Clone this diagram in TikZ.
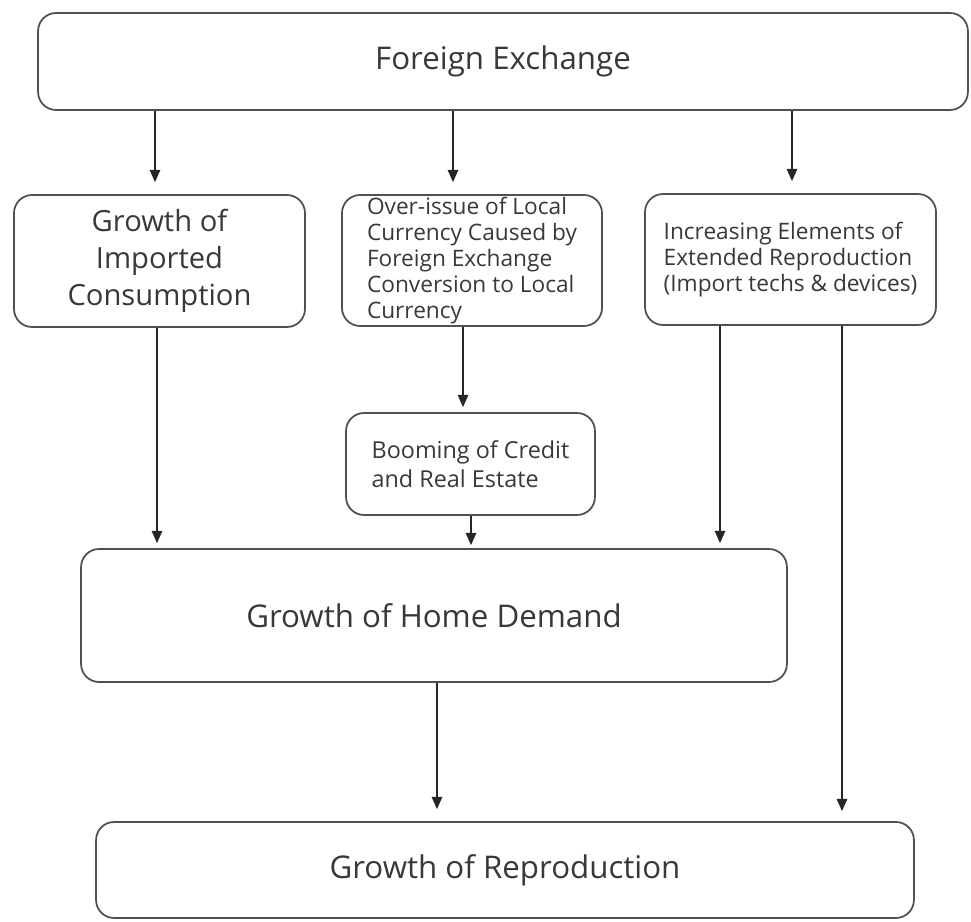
\documentclass[tikz,border=0pt]{standalone}
\usepackage{fontspec}
\setmainfont{Open Sans}
\usetikzlibrary{arrows.meta}
\definecolor{boxline}{HTML}{505050}
\definecolor{boxtext}{HTML}{383838}
\tikzset{
	box/.style={draw=boxline, line width=1pt, rounded corners=0.36cm, text=boxtext, align=center, inner sep=0pt},
	bigtext/.style={font=\fontsize{17.8}{21}\selectfont},
	smalltext/.style={font=\fontsize{12.9}{14.7}\selectfont, align=left},
	arr/.style={draw=black!85, line width=0.8pt, -{Triangle[length=7pt,width=6pt]}, shorten >=0.1cm},
}
\begin{document}
\begin{tikzpicture}[x=0.02cm, y=-0.02cm]
	\useasboundingbox (0,0) rectangle (971,922);
	% boxes
	\node[box, bigtext, minimum width=18.6cm, minimum height=1.94cm] (fx) at (503,61.5) {Foreign Exchange};
	\node[box, font=\fontsize{16.6}{21}\selectfont, minimum width=5.82cm, minimum height=2.64cm] (imp) at (159.5,261) {Growth of\\Imported\\Consumption};
	\node[box, smalltext, minimum width=5.2cm, minimum height=2.62cm] (ovr) at (472,260.5) {Over-issue of Local\\Currency Caused by\\Foreign Exchange\\Conversion to Local\\Currency};
	\node[box, smalltext, minimum width=5.82cm, minimum height=2.62cm] (inc) at (790.5,259.5) {Increasing Elements of\\Extended Reproduction\\(Import techs \& devices)};
	\node[box, font=\fontsize{13.3}{16.4}\selectfont, align=left, minimum width=4.98cm, minimum height=2.04cm] (boom) at (470.5,464) {Booming of Credit\\and Real Estate};
	\node[box, bigtext, minimum width=14.12cm, minimum height=2.66cm] (home) at (434,615.5) {Growth of Home Demand};
	\node[box, bigtext, minimum width=16.36cm, minimum height=1.92cm] (rep) at (505,870) {Growth of Reproduction};
	% arrows
	\draw[arr, shorten >=0.24cm] (fx.south -| 155,0) -- (imp.north -| 155,0);
	\draw[arr, shorten >=0.24cm] (fx.south -| 453,0) -- (ovr.north -| 453,0);
	\draw[arr, shorten >=0.24cm] (fx.south -| 792,0) -- (inc.north -| 792,0);
	\draw[arr] (imp.south -| 157,0) -- (home.north -| 157,0);
	\draw[arr] (ovr.south -| 463,0) -- (boom.north -| 463,0);
	\draw[arr, shorten >=0.06cm] (boom.south -| 471,0) -- (home.north -| 471,0);
	\draw[arr] (inc.south -| 720,0) -- (home.north -| 720,0);
	\draw[arr, shorten >=0.2cm] (inc.south -| 842,0) -- (rep.north -| 842,0);
	\draw[arr, shorten >=0.24cm] (home.south -| 437,0) -- (rep.north -| 437,0);
\end{tikzpicture}
\end{document}
